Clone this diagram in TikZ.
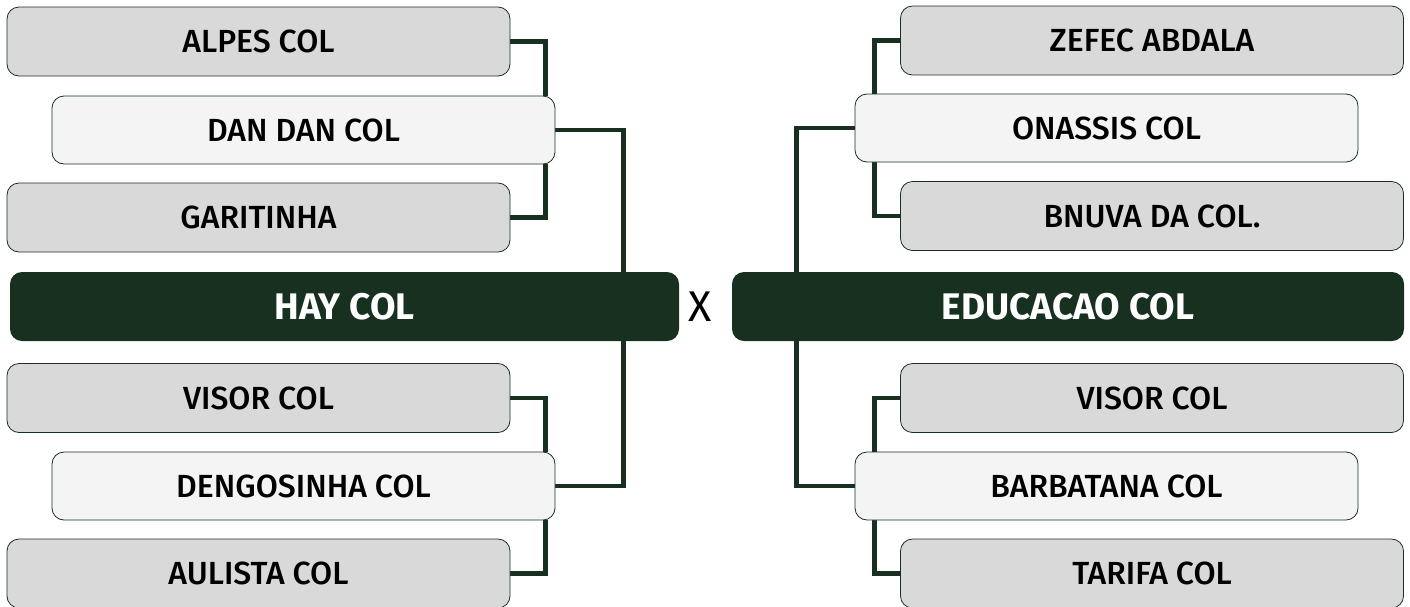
\documentclass[tikz,border=0pt]{standalone}
\usepackage{fontspec}
\setmainfont{Fira Sans}[UprightFont=* Medium, BoldFont=* Bold]
\newfontfamily\plainfont{Fira Sans}
\usetikzlibrary{backgrounds}
\definecolor{pine}{HTML}{173020}
\definecolor{boxgray}{HTML}{D9D9D9}
\definecolor{boxlight}{HTML}{F4F4F4}

\begin{document}
\begin{tikzpicture}[x=1pt, y=-1pt, line join=miter]
            \tikzset{
                team/.style={draw=pine, line width=0.8pt, rounded corners=12pt, fill=boxgray, minimum width=503pt, minimum height=69pt, inner sep=0pt, font=\fontsize{32}{32}\selectfont},
                lead/.style={team, fill=boxlight, minimum height=68pt},
                final/.style={rounded corners=12pt, fill=pine, text=white, minimum height=69pt, inner sep=0pt, font=\fontsize{37}{37}\selectfont\bfseries},
                link/.style={pine, line width=4.5pt}
            };
            \useasboundingbox (0, 0) rectangle (1410, 606);
            % left half
            \node[team] (alpes) at (258.5, 41.5) {ALPES COL};
            \node[lead] (dandan) at (303.5, 130) {DAN DAN COL};
            \node[team] (garitinha) at (258.5, 217.5) {GARITINHA};
            \node[final, minimum width=669pt] (hay) at (344.5, 306.5) {HAY COL};
            \node[team] (visor) at (258.5, 398) {VISOR COL};
            \node[lead] (dengosinha) at (303.5, 486) {DENGOSINHA COL};
            \node[team] (aulista) at (258.5, 573.5) {AULISTA COL};
            % right half
            \node[team] (zefec) at (1152, 40.5) {ZEFEC ABDALA};
            \node[lead] (onassis) at (1106.5, 128) {ONASSIS COL};
            \node[team] (bnuva) at (1152, 216) {BNUVA DA COL.};
            \node[final, minimum width=672pt] (educacao) at (1068, 306.5) {EDUCACAO COL};
            \node[team] (visor2) at (1152, 398) {VISOR COL};
            \node[lead] (barbatana) at (1106.5, 486) {BARBATANA COL};
            \node[team] (tarifa) at (1152, 573.5) {TARIFA COL};
            \node[font=\plainfont\fontsize{43}{43}\selectfont] (versus) at (700, 307) {X};
            \begin{scope}[on background layer]
                \draw[link] (alpes.east) -| ([xshift=-10pt]dandan.north east);
                \draw[link] (garitinha.east) -| ([xshift=-10pt]dandan.south east);
                \draw[link] (visor.east) -| ([xshift=-10pt]dengosinha.north east);
                \draw[link] (aulista.east) -| ([xshift=-10pt]dengosinha.south east);
                \draw[link] (dandan.east) -- ++(68, 0) |- (dengosinha.east);
                \draw[link] (zefec.west) -| ([xshift=20pt]onassis.north west);
                \draw[link] (bnuva.west) -| ([xshift=20pt]onassis.south west);
                \draw[link] (visor2.west) -| ([xshift=20pt]barbatana.north west);
                \draw[link] (tarifa.west) -| ([xshift=20pt]barbatana.south west);
                \draw[link] (onassis.west) -- ++(-58, 0) |- (barbatana.west);
            \end{scope}
        \end{tikzpicture}
\end{document}
